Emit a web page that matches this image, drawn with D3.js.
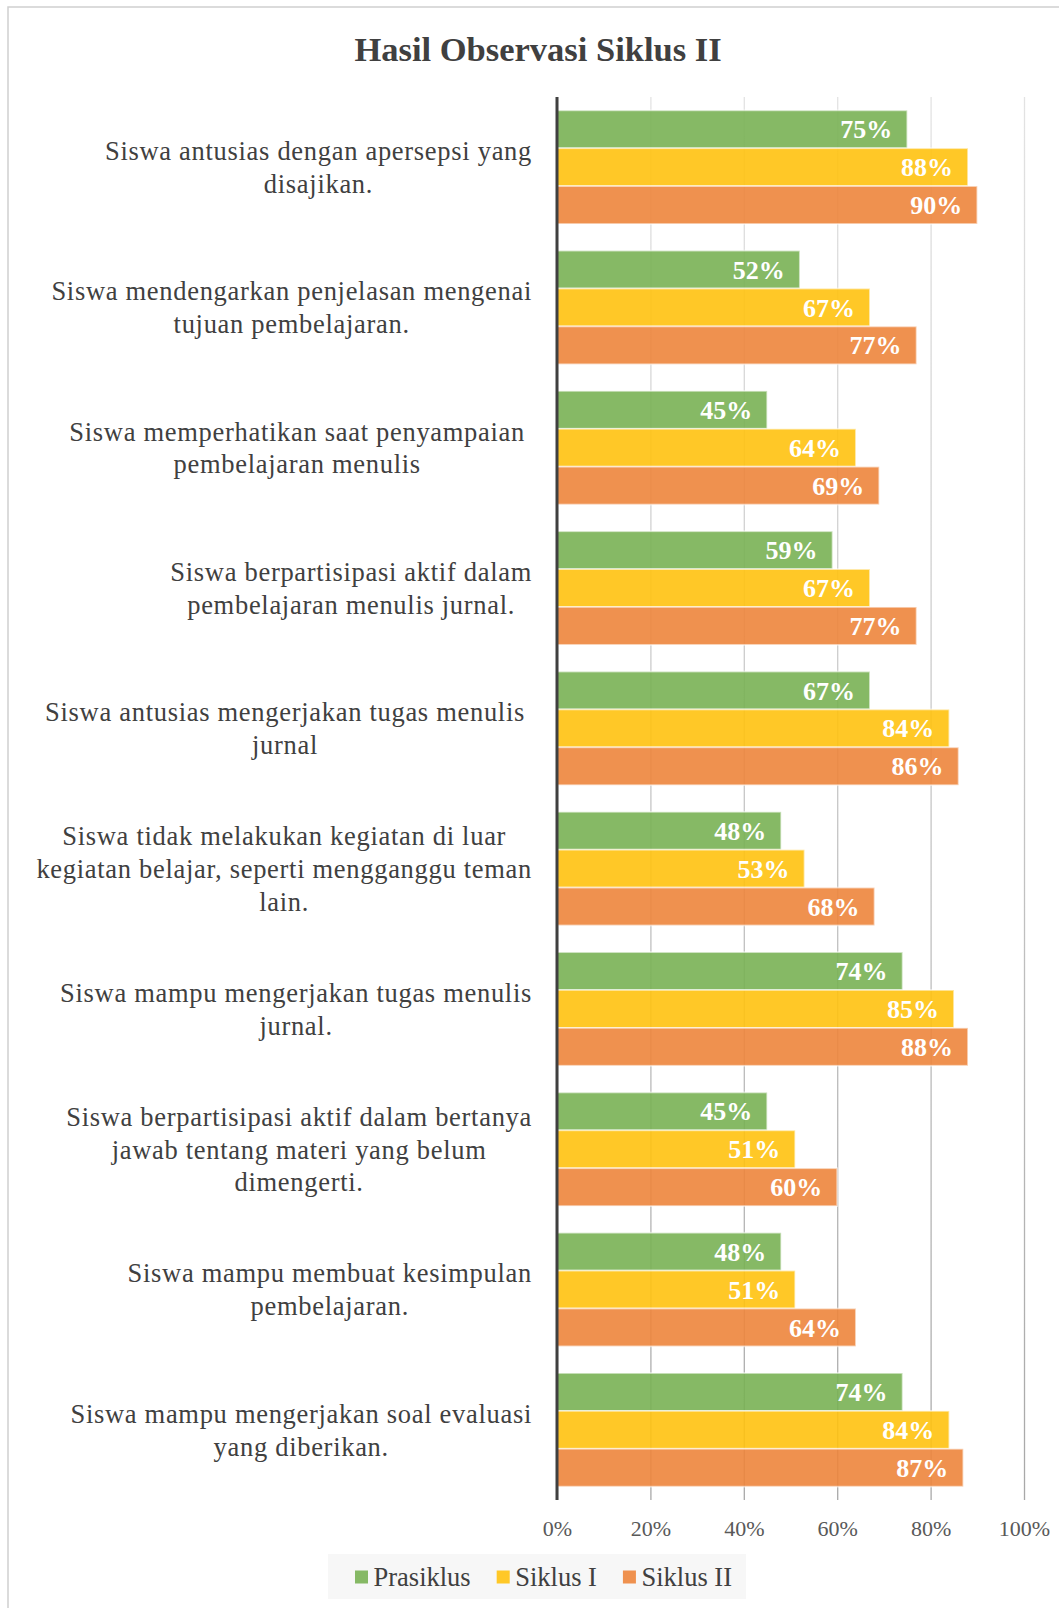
<!DOCTYPE html>
<html>
<head>
<meta charset="utf-8">
<script src="https://cdn.jsdelivr.net/npm/d3@7"></script>
<style>
  body { margin: 0; background: #fff; }
  text { font-family: "Liberation Serif", "Times New Roman", serif; }
</style>
</head>
<body>
<div class="chart"></div>
<script>
const categories = [
  ["Siswa antusias dengan apersepsi yang", "disajikan."],
  ["Siswa mendengarkan penjelasan mengenai", "tujuan pembelajaran."],
  ["Siswa memperhatikan saat penyampaian ", "pembelajaran menulis "],
  ["Siswa berpartisipasi aktif dalam", "pembelajaran menulis jurnal."],
  ["Siswa antusias mengerjakan tugas menulis ", "jurnal "],
  ["Siswa tidak melakukan kegiatan di luar", "kegiatan belajar, seperti mengganggu teman", "lain."],
  ["Siswa mampu mengerjakan tugas menulis", "jurnal."],
  ["Siswa berpartisipasi aktif dalam bertanya", "jawab tentang materi yang belum", "dimengerti."],
  ["Siswa mampu membuat kesimpulan", "pembelajaran."],
  ["Siswa mampu mengerjakan soal evaluasi", "yang diberikan."]
]
const seriesNames = ["Prasiklus", "Siklus I", "Siklus II"]
const prasiklus = [0.75, 0.52, 0.45, 0.59, 0.67, 0.48, 0.74, 0.45, 0.48, 0.74]
const siklus1 = [0.88, 0.67, 0.64, 0.67, 0.84, 0.53, 0.85, 0.51, 0.51, 0.84]
const siklus2 = [0.90, 0.77, 0.69, 0.77, 0.86, 0.68, 0.88, 0.60, 0.64, 0.87]
const xTicks = [0, 0.2, 0.4, 0.6, 0.8, 1]
const colors = ["#79b154", "#ffc210", "#ed853c"]

const w = 1059, h = 1608
const plotLeft = 557, plotRight = 1024, plotTop = 97, plotBottom = 1500

const values = [prasiklus, siklus1, siklus2]
const rows = categories.map((c, i) => ({ idx: i, lines: c, vals: values.map(s => s[i]) }))

const svg = d3.select(".chart")
  .append("svg")
  .attr("width", w)
  .attr("height", h)

// outer frame (cropped on right/bottom like the source image)
svg.append("rect")
  .attr("x", 8)
  .attr("y", 7)
  .attr("width", w + 20)
  .attr("height", h + 20)
  .attr("fill", "none")
  .attr("stroke", "#cfcfcf")
  .attr("stroke-width", 1.5)

svg.append("text")
  .attr("x", 538)
  .attr("y", 61)
  .style("text-anchor", "middle")
  .style("font-size", "34.5px")
  .style("font-weight", "bold")
  .attr("fill", "#404040")
  .text("Hasil Observasi Siklus II")

const x = d3.scaleLinear()
  .domain([0, 1])
  .range([plotLeft, plotRight])

const y = d3.scaleBand()
  .domain(rows.map(d => d.idx))
  .range([plotTop, plotBottom])
  .paddingInner(0.19)
  .paddingOuter(0.095)

const ySub = d3.scaleBand()
  .domain(d3.range(seriesNames.length))
  .range([0, y.bandwidth()])

const grad = svg.append("defs")
  .append("linearGradient")
  .attr("id", "gridfade")
  .attr("gradientUnits", "userSpaceOnUse")
  .attr("x1", 0).attr("x2", 0)
  .attr("y1", -(plotBottom - plotTop)).attr("y2", 0)
grad.append("stop").attr("offset", "0%").attr("stop-color", "#e3e3e3")
grad.append("stop").attr("offset", "100%").attr("stop-color", "#a8a8a8")

// gridlines + tick labels through a d3 axis
const xAxis = d3.axisBottom(x)
  .tickValues(xTicks)
  .tickSize(-(plotBottom - plotTop))
  .tickFormat(d3.format(".0%"))

const gx = svg.append("g")
  .attr("transform", `translate(0,${plotBottom})`)
  .call(xAxis)
gx.select(".domain").remove()
gx.selectAll(".tick line")
  .attr("stroke", "url(#gridfade)")
  .attr("stroke-width", 1.3)
  .attr("x1", 0.01)
gx.selectAll(".tick text")
  .attr("fill", "#595959")
  .style("font-size", "22px")
  .style("font-family", "Liberation Serif, serif")
  .attr("dy", "0.35em")
  .attr("y", 28)

const groups = svg.selectAll(".group")
  .data(rows)
  .join("g")
  .attr("class", "group")
  .attr("transform", d => `translate(0,${y(d.idx)})`)

groups.selectAll("rect")
  .data(d => d.vals)
  .join("rect")
  .attr("x", x(0))
  .attr("y", (v, i) => ySub(i))
  .attr("width", v => x(v) - x(0))
  .attr("height", ySub.bandwidth())
  .attr("fill", (v, i) => colors[i])
  .attr("fill-opacity", 0.9)
  .attr("stroke", "#fff")
  .attr("stroke-opacity", 0.55)
  .attr("stroke-width", 1.8)

groups.selectAll(".val")
  .data(d => d.vals)
  .join("text")
  .attr("class", "val")
  .attr("x", v => x(v) - 15)
  .attr("y", (v, i) => ySub(i) + ySub.bandwidth() / 2)
  .attr("dy", "0.35em")
  .style("text-anchor", "end")
  .style("font-size", "26px")
  .style("font-weight", "bold")
  .attr("fill", "#fff")
  .text(v => d3.format(".0%")(v))

// category labels: wrapped block, centred, block right edge at 532
// (a trailing space still counts in the centring, like the source)
const lineGap = 32.8
const labelRight = 532
const trailPad = 7
groups.each(function(d) {
  const g = d3.select(this)
  const lab = g.append("text")
    .style("font-size", "26.5px")
    .style("letter-spacing", "0.7px")
    .attr("fill", "#404040")
  const mid = y.bandwidth() / 2
  const n = d.lines.length
  const spans = d.lines.map((ln, i) => {
    const s = lab.append("tspan")
      .attr("y", mid + (i - (n - 1) / 2) * lineGap)
      .attr("dy", "0.35em")
      .text(ln.trimEnd())
    const pad = ln.endsWith(" ") ? trailPad : 0
    return { s, width: s.node().getComputedTextLength() + pad }
  })
  const maxW = d3.max(spans, o => o.width)
  spans.forEach(o => o.s.attr("x", labelRight - maxW / 2 - o.width / 2))
})

// y axis line at 0%
svg.append("line")
  .attr("x1", x(0)).attr("x2", x(0))
  .attr("y1", plotTop).attr("y2", plotBottom)
  .attr("stroke", "#404040")
  .attr("stroke-width", 3)

// legend
const legend = svg.append("g")
legend.append("rect")
  .attr("x", 328)
  .attr("y", 1554)
  .attr("width", 418)
  .attr("height", 45)
  .attr("fill", "#f7f7f7")

let lx = 355
seriesNames.forEach((name, i) => {
  legend.append("rect")
    .attr("x", lx)
    .attr("y", 1577 - 6.5)
    .attr("width", 13)
    .attr("height", 13)
    .attr("fill", colors[i])
    .attr("fill-opacity", 0.9)
  const t = legend.append("text")
    .attr("x", lx + 18.5)
    .attr("y", 1577)
    .attr("dy", "0.35em")
    .style("font-size", "26.5px")
    .attr("fill", "#404040")
    .text(name)
  lx += 18.5 + t.node().getComputedTextLength() + 26
})
</script>
</body>
</html>
